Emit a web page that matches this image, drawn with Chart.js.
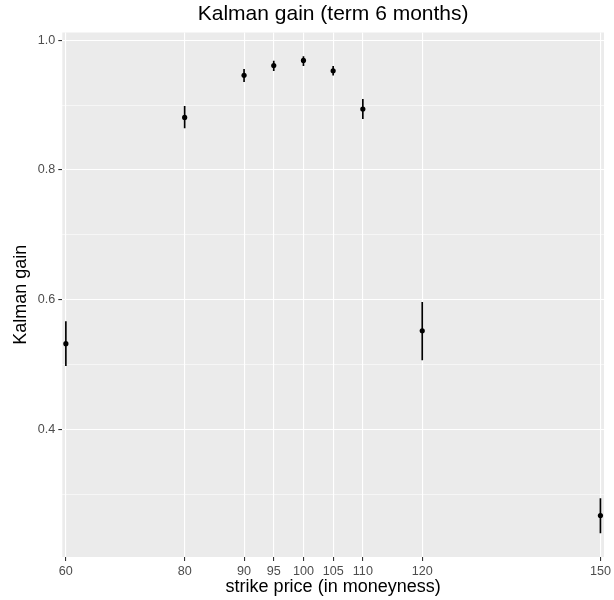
<!DOCTYPE html>
<html>
<head>
<meta charset="utf-8">
<script src="https://cdn.jsdelivr.net/npm/chart.js@4.4.1/dist/chart.umd.min.js"></script>
<style>
  html, body { margin: 0; padding: 0; background: #fff; }
</style>
</head>
<body>
<canvas id="chart" width="614" height="600"></canvas>
<script>
// strike price (moneyness) and estimated Kalman gain with its interval
var strikes = [60, 80, 90, 95, 100, 105, 110, 120, 150];
var gain  = [0.532, 0.881, 0.946, 0.961, 0.969, 0.953, 0.894, 0.552, 0.267];
var lower = [0.498, 0.865, 0.936, 0.953, 0.961, 0.946, 0.879, 0.507, 0.240];
var upper = [0.566, 0.898, 0.955, 0.968, 0.975, 0.960, 0.909, 0.596, 0.293];

var yMajor = [0.4, 0.6, 0.8, 1.0];
var yMinor = [0.3, 0.5, 0.7, 0.9];

Chart.defaults.font.family = "'Liberation Sans', Arial, sans-serif";

function isMajor(v) {
    return yMajor.some(function (m) { return Math.abs(m - v) < 1e-9; });
}

var panelBg = {
    id: 'panelBg',
    beforeDraw: function (chart) {
        var ctx = chart.ctx, a = chart.chartArea;
        ctx.save();
        ctx.fillStyle = '#ffffff';
        ctx.fillRect(0, 0, chart.width, chart.height);
        ctx.fillStyle = '#EBEBEB';
        ctx.fillRect(a.left, a.top, a.right - a.left, a.bottom - a.top);
        ctx.restore();
    }
};

var bars = [];
var points = [];
for (var i = 0; i < strikes.length; i++) {
    bars.push({ x: strikes[i], y: [lower[i], upper[i]] });
    points.push({ x: strikes[i], y: gain[i] });
}

new Chart(document.getElementById('chart'), {
    type: 'scatter',
    data: {
        datasets: [
            {
                type: 'bar',
                data: bars,
                backgroundColor: '#000000',
                borderWidth: 0,
                barThickness: 1,
                grouped: false,
                order: 1
            },
            {
                type: 'scatter',
                data: points,
                pointRadius: 2.6,
                pointHoverRadius: 2.6,
                pointBackgroundColor: '#000000',
                pointBorderWidth: 0,
                order: 0
            }
        ]
    },
    options: {
        responsive: false,
        animation: false,
        events: [],
        devicePixelRatio: 1,
        layout: { padding: { left: 0, right: 9.7, top: 0, bottom: 0 } },
        plugins: {
            legend: { display: false },
            tooltip: { enabled: false },
            title: {
                display: true,
                text: 'Kalman gain (term 6 months)',
                fullSize: false,
                align: 'center',
                color: '#000000',
                font: { size: 21, weight: 'normal' },
                padding: { top: 2, bottom: 5.3 }
            }
        },
        scales: {
            x: {
                type: 'linear',
                min: 59.4,
                max: 150.6,
                offset: false,
                afterBuildTicks: function (scale) {
                    scale.ticks = strikes.map(function (v) { return { value: v }; });
                },
                afterFit: function (scale) { scale.height = 43; },
                border: { display: false },
                grid: {
                    offset: false,
                    color: '#ffffff',
                    lineWidth: 1.1,
                    tickLength: 4,
                    tickColor: '#333333',
                    tickWidth: 1.1
                },
                ticks: {
                    autoSkip: false,
                    maxRotation: 0,
                    color: '#4D4D4D',
                    font: { size: 12.6 },
                    padding: 3,
                    callback: function (v) { return String(v); }
                },
                title: {
                    display: true,
                    text: 'strike price (in moneyness)',
                    color: '#000000',
                    font: { size: 18 },
                    padding: { top: 0, bottom: 2 }
                }
            },
            y: {
                min: 0.203,
                max: 1.012,
                beginAtZero: false,
                afterBuildTicks: function (scale) {
                    scale.ticks = yMinor.concat(yMajor).sort(function (a, b) { return a - b; })
                        .map(function (v) { return { value: v }; });
                },
                afterFit: function (scale) { scale.width = 62.3; },
                border: { display: false },
                grid: {
                    color: '#ffffff',
                    lineWidth: function (c) { return isMajor(c.tick.value) ? 1.1 : 0.55; },
                    tickLength: 4,
                    tickColor: function (c) { return isMajor(c.tick.value) ? '#333333' : 'rgba(0,0,0,0)'; },
                    tickWidth: 1.1
                },
                ticks: {
                    autoSkip: false,
                    color: '#4D4D4D',
                    font: { size: 12.6 },
                    padding: 3,
                    callback: function (v) { return isMajor(v) ? v.toFixed(1) : ''; }
                },
                title: {
                    display: true,
                    text: 'Kalman gain',
                    color: '#000000',
                    font: { size: 18 },
                    padding: { top: 10.4, bottom: 0 }
                }
            }
        }
    },
    plugins: [panelBg]
});
</script>
</body>
</html>
